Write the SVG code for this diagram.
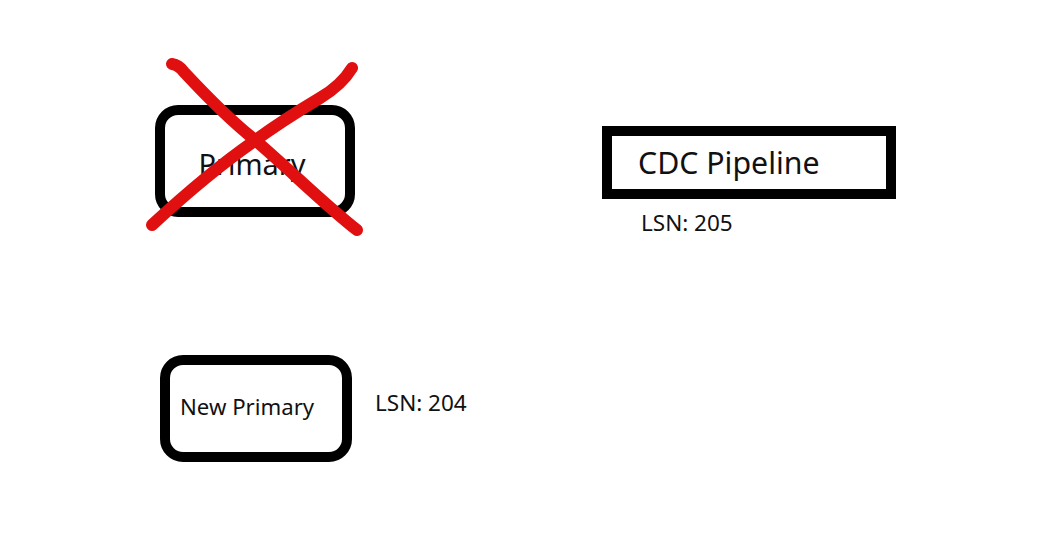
<svg xmlns="http://www.w3.org/2000/svg" width="1057" height="542" viewBox="0 0 1057 542">
<style>
.box{fill:#fff;stroke:#000;stroke-width:10}
.t{font-family:"Segoe UI","Noto Sans",sans-serif;fill:#111}
.x{fill:none;stroke:#e01010;stroke-width:12;stroke-linecap:round;stroke-linejoin:round}
</style>
<rect width="1057" height="542" fill="#fff"/>
<g id="primary">
<rect class="box" x="160" y="110" width="190" height="102" rx="18"/>
<text class="t" x="252" y="175" font-size="29" text-anchor="middle">Primary</text>
</g>
<g id="cdc">
<rect class="box" x="607" y="131" width="284" height="63"/>
<text class="t" x="638" y="174" font-size="30.3">CDC Pipeline</text>
<text class="t" x="641" y="231" font-size="22.5">LSN: 205</text>
</g>
<g id="newprimary">
<rect class="box" x="165" y="360" width="182" height="97" rx="18"/>
<text class="t" x="180" y="415" font-size="22.2">New Primary</text>
<text class="t" x="375" y="411" font-size="22.5">LSN: 204</text>
</g>
<g id="connectors">
<path class="x" d="M172,64 Q179,65 184,72 C210,100 230,120 255,140 C290,170 325,205 357,230"/>
<path class="x" d="M152,225 C190,190 220,165 253,142 C280,122 305,107 320,98 C335,89 346,78 352,68"/>
</g>
</svg>
